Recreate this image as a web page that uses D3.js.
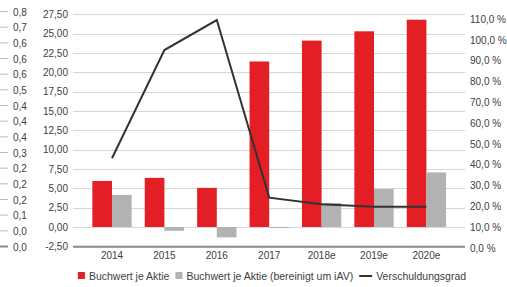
<!DOCTYPE html>
<html><head><meta charset="utf-8">
<script src="https://cdn.jsdelivr.net/npm/d3@7"></script>
<style>body{margin:0;background:#fff}svg{display:block}text{font-family:"Liberation Sans",Arial,sans-serif;fill:#404040}</style>
</head><body><svg id="c" width="507" height="287"></svg>
<script>
const categories = ["2014","2015","2016","2017","2018e","2019e","2020e"];
const buchwert = [5.95, 6.35, 5.05, 21.4, 24.1, 25.3, 26.8];
const buchwertBereinigt = [4.15, -0.5, -1.35, -0.1, 3.1, 4.9, 7.05];
const verschuldung = [43.1, 95.1, 109.5, 24.2, 21.0, 19.8, 19.8];
const leftTicks = [-2.5,0,2.5,5,7.5,10,12.5,15,17.5,20,22.5,25,27.5];
const rightTicks = [0,10,20,30,40,50,60,70,80,90,100,110];
const extraLabels = ["0,8","0,7","0,6","0,6","0,6","0,5","0,4","0,4","0,4","0,3","0,2","0,2","0,2","0,1","0,0","0,0"];
const seriesNames = ["Buchwert je Aktie","Buchwert je Aktie (bereinigt um iAV)","Verschuldungsgrad"];
const colors = {red:"#e31e24", gray:"#b2b2b2", line:"#333333"};

const svg = d3.select("#c");
const fmt = v => v.toFixed(2).replace(".", ",");
const y = d3.scaleLinear().domain([-2.5, 27.5]).range([246.3, 14.3]);
const y2 = d3.scaleLinear().domain([0, 110]).range([248, 19]);
const x = d3.scaleBand().domain(categories).range([85.8, 452.6]).paddingInner(0.25).paddingOuter(0.125);
const xs = d3.scaleBand().domain([0,1]).range([0, x.bandwidth()]);
const FS = 10;

// grid
svg.append("g").selectAll("line").data(leftTicks.filter(d=>d!==-2.5)).join("line")
  .attr("x1",73).attr("x2",465).attr("y1",d=>Math.round(y(d))+0.5).attr("y2",d=>Math.round(y(d))+0.5)
  .attr("stroke","#d6d6d6").attr("stroke-width",1);

// left axis labels
const la = d3.axisLeft(y).tickValues(leftTicks).tickFormat(fmt).tickSize(0).tickPadding(0);
const gL = svg.append("g").attr("transform","translate(68,0)").call(la);
gL.select(".domain").remove();
gL.selectAll("text").attr("font-size",FS).style("font-family","Liberation Sans, Arial, sans-serif").attr("fill","#404040");

// right axis labels
const ra = d3.axisRight(y2).tickValues(rightTicks).tickFormat(d=>d.toFixed(1).replace(".",",")+" %").tickSize(0).tickPadding(0);
const gR = svg.append("g").attr("transform","translate(470,0)").call(ra);
gR.select(".domain").remove();
gR.selectAll("text").attr("font-size",FS).style("font-family","Liberation Sans, Arial, sans-serif").attr("fill","#404040");

// extra far-left axis
const ye = d3.scalePoint().domain(d3.range(extraLabels.length)).range([12, 247]);
const gE = svg.append("g");
gE.selectAll("line").data(extraLabels).join("line")
  .attr("x1",0).attr("x2",8).attr("y1",(d,i)=>ye(i)-0.5).attr("y2",(d,i)=>ye(i)-0.5)
  .attr("stroke",(d,i)=>i===extraLabels.length-1?"#888":"#bdbdbd").attr("stroke-width",(d,i)=>i===extraLabels.length-1?2:1);
gE.selectAll("text").data(extraLabels).join("text")
  .attr("x",13).attr("y",(d,i)=>ye(i)).attr("dy","0.35em").attr("font-size",FS).text(d=>d);

// bars
const bars = svg.append("g");
bars.selectAll("rect.r").data(buchwert).join("rect").attr("class","r")
  .attr("x",(d,i)=>x(categories[i])+xs(0)).attr("width",xs.bandwidth())
  .attr("y",d=>y(Math.max(0,d))).attr("height",d=>Math.abs(y(d)-y(0))).attr("fill",colors.red);
bars.selectAll("rect.g").data(buchwertBereinigt).join("rect").attr("class","g")
  .attr("x",(d,i)=>x(categories[i])+xs(1)).attr("width",xs.bandwidth())
  .attr("y",d=>y(Math.max(0,d))).attr("height",d=>Math.max(1,Math.abs(y(d)-y(0)))).attr("fill",colors.gray);

// baseline
svg.append("line").attr("x1",73).attr("x2",465).attr("y1",y(-2.5)+0.5).attr("y2",y(-2.5)+0.5)
  .attr("stroke","#8a8a8a").attr("stroke-width",2);

// x axis labels
const xa = d3.axisBottom(x).tickSize(0).tickPadding(0);
const gX = svg.append("g").attr("transform","translate(0,252)").call(xa);
gX.select(".domain").remove();
gX.selectAll("text").attr("font-size",FS).style("font-family","Liberation Sans, Arial, sans-serif").attr("fill","#404040");

// line
const line = d3.line().x((d,i)=>x(categories[i])+x.bandwidth()/2).y(d=>y2(d));
svg.append("path").datum(verschuldung).attr("d",line).attr("fill","none")
  .attr("stroke",colors.line).attr("stroke-width",2).attr("stroke-linejoin","miter");

// legend
const lg = svg.append("g").attr("transform","translate(0,276)");
let cx = 0;
const items = [];
seriesNames.forEach((name,i)=>{
  const g = lg.append("g");
  if(i<2){
    g.append("rect").attr("x",0).attr("y",-4).attr("width",7).attr("height",7).attr("fill",i===0?colors.red:colors.gray);
  } else {
    g.append("line").attr("x1",0).attr("x2",13).attr("y1",0).attr("y2",0).attr("stroke",colors.line).attr("stroke-width",2);
  }
  const t = g.append("text").attr("x",i<2?11:17).attr("dy","0.35em").attr("font-size",10.5).text(name);
  items.push({g, w:(i<2?11:17)+t.node().getComputedTextLength()});
});
const gap = 6;
const total = d3.sum(items,d=>d.w)+gap*(items.length-1);
cx = 272 - total/2;
items.forEach(it=>{ it.g.attr("transform",`translate(${cx},0)`); cx += it.w+gap; });
</script></body></html>
